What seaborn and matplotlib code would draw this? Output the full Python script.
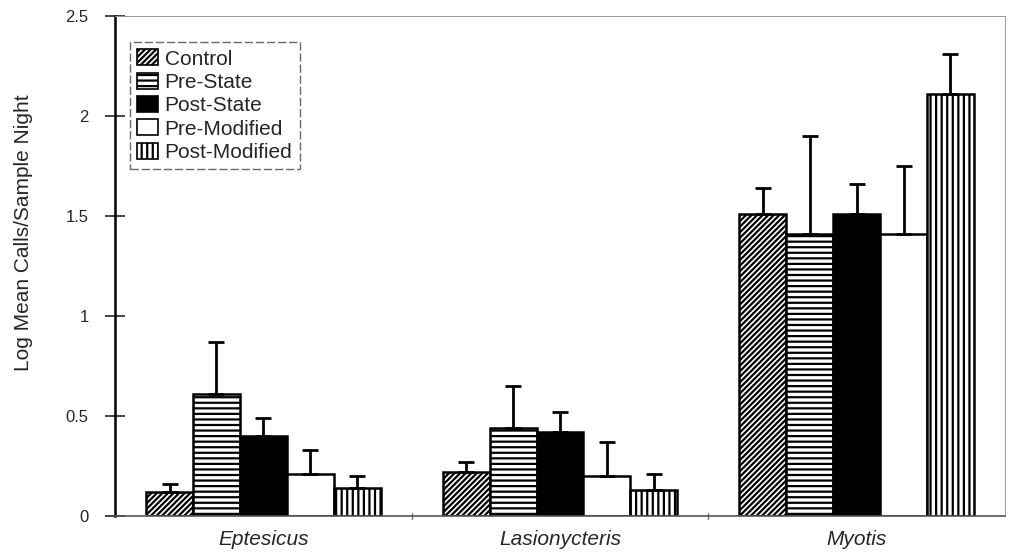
import matplotlib
matplotlib.use("Agg")
import matplotlib.pyplot as plt
import seaborn as sns
import pandas as pd
import numpy as np
from matplotlib.patches import Patch

species = ["Eptesicus", "Lasionycteris", "Myotis"]
treatments = ["Control", "Pre-State", "Post-State", "Pre-Modified", "Post-Modified"]
control = [0.12, 0.22, 1.51]
pre_state = [0.61, 0.44, 1.41]
post_state = [0.40, 0.42, 1.51]
pre_modified = [0.21, 0.20, 1.41]
post_modified = [0.14, 0.13, 2.11]
control_err = [0.04, 0.05, 0.13]
pre_state_err = [0.26, 0.21, 0.49]
post_state_err = [0.09, 0.10, 0.15]
pre_modified_err = [0.12, 0.17, 0.34]
post_modified_err = [0.06, 0.08, 0.20]

means = [control, pre_state, post_state, pre_modified, post_modified]
errs = [control_err, pre_state_err, post_state_err, pre_modified_err, post_modified_err]
rows = []
for t, m in zip(treatments, means):
    for s, v in zip(species, m):
        rows.append({"Species": s, "Treatment": t, "Value": v})
df = pd.DataFrame(rows)

sns.set_theme(style="white")
plt.rcParams["font.family"] = ["Liberation Sans", "DejaVu Sans"]
plt.rcParams["hatch.linewidth"] = 1.6
plt.rcParams["hatch.color"] = "black"

fig = plt.figure(figsize=(10.09, 5.6), dpi=100)
ax = fig.add_axes([0.114, 0.0786, 0.882, 0.8928])

fills = ["white", "white", "black", "white", "white"]
hatches = ["//////", "---", "", "", "|||"]
palette = dict(zip(treatments, fills))
sns.barplot(data=df, x="Species", y="Value", hue="Treatment", hue_order=treatments,
            order=species, palette=palette, width=0.79, edgecolor="black",
            linewidth=1.8, errorbar=None, ax=ax, legend=False)

for cont, h, e in zip(ax.containers, hatches, errs):
    xs, ys = [], []
    for bar in cont:
        bar.set_hatch(h)
        bar.set_edgecolor("black")
        xs.append(bar.get_x() + bar.get_width() / 2)
        ys.append(bar.get_height())
    ax.errorbar(xs, ys, yerr=[np.zeros(len(e)), e], fmt="none", ecolor="black",
                elinewidth=2, capsize=6, capthick=2, zorder=3)

ax.set_ylim(0, 2.5)
ax.set_xlim(-0.5, 2.5)
ax.set_yticks([0, 0.5, 1, 1.5, 2, 2.5])
ax.set_yticklabels(["0", "0.5", "1", "1.5", "2", "2.5"], fontsize=12)
ax.set_xticks([0, 1, 2])
ax.set_xticklabels(species, fontsize=15, style="italic")
ax.tick_params(axis="x", length=0, pad=10)
ax.tick_params(axis="y", direction="inout", length=14, width=1.2, left=True, pad=12)
for b in [0.5, 1.5]:
    ax.plot([b, b], [-0.015, 0.015], color="gray", lw=1, clip_on=False)
ax.set_xlabel("")
ax.set_ylabel("Log Mean Calls/Sample Night", fontsize=15)
ax.yaxis.set_label_coords(-0.092, 0.566)

ax.spines["left"].set_color("black")
ax.spines["left"].set_linewidth(1.8)
ax.spines["bottom"].set_color("#555555")
ax.spines["bottom"].set_linewidth(1.2)
for s in ["top", "right"]:
    ax.spines[s].set_color("#999999")
    ax.spines[s].set_linewidth(0.7)
    ax.spines[s].set_linestyle((0, (2, 1)))

handles = [Patch(facecolor=f, edgecolor="black", hatch=h, linewidth=1.2)
           for f, h in zip(fills, hatches)]
leg = ax.legend(handles, treatments, loc="upper left", bbox_to_anchor=(0.017, 0.948),
                fontsize=15, frameon=True, fancybox=False, edgecolor="#444444",
                handlelength=1.0, handleheight=0.8, handletextpad=0.3,
                labelspacing=0.2, borderpad=0.35, borderaxespad=0)
leg.get_frame().set_linewidth(1.0)
leg.get_frame().set_linestyle((0, (6, 2)))

fig.savefig("out.png", dpi=100)
